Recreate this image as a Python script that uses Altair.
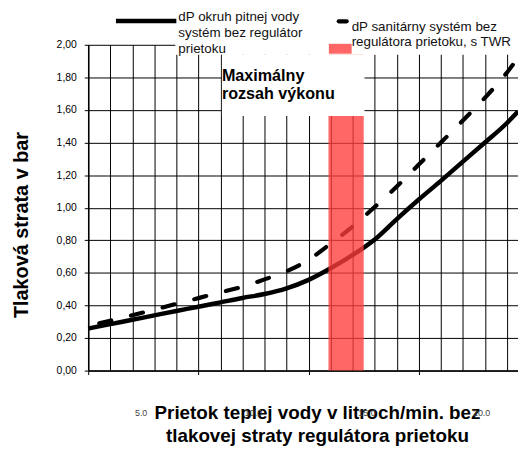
import altair as alt
import pandas as pd

# ---- data ----
solid_x = [0, 1, 2, 3, 4, 5, 6, 7, 8, 9, 10, 11, 12, 13, 14, 15, 16, 17, 18, 19, 19.5]
solid_y = [0.258, 0.285, 0.312, 0.339, 0.366, 0.392, 0.419, 0.446, 0.47, 0.505, 0.557,
           0.628, 0.71, 0.805, 0.93, 1.05, 1.165, 1.283, 1.40, 1.52, 1.59]

dashed_x = [0.5, 2, 4, 6, 7, 8, 9, 10, 11, 12, 13, 14, 15, 16, 17, 18, 19, 19.5]
dashed_y = [0.29, 0.34, 0.41, 0.48, 0.515, 0.56, 0.61, 0.68, 0.78, 0.885, 1.005,
            1.13, 1.265, 1.40, 1.535, 1.675, 1.83, 1.92]

band_start = [10.9]
band_end = [12.5]
band_bottom = [0.0]
band_top = [2.0]

y_ticks = [0.0, 0.2, 0.4, 0.6, 0.8, 1.0, 1.2, 1.4, 1.6, 1.8, 2.0]
x_grid = list(range(0, 20))
x_tick_label_pos = [2.4, 7.5, 12.65, 17.85]
x_tick_labels = ["5.0", "10.0", "15.0", "20.0"]

legend_solid = ["\u00a0dP okruh pitnej vody", "systém bez regulátor", "prietoku"]
legend_dashed = ["dP sanitárny systém bez", "regulátora prietoku, s TWR"]
box_text = ["Maximálny", "rozsah výkonu"]
x_title = ["Prietok teplej vody v litroch/min. bez", "tlakovej straty  regulátora prietoku"]
y_title = "Tlaková strata v bar"

FONT = "Liberation Sans"

xs = alt.Scale(domain=[0, 19.5], nice=False, zero=False)
ys = alt.Scale(domain=[0, 2], nice=False, zero=False)

y_axis = alt.Axis(
    values=y_ticks,
    labelExpr="replace(format(datum.value, '.2f'), '.', ',')",
    grid=True, gridColor="#000", gridWidth=1,
    domainColor="#000", domainWidth=1.5,
    tickColor="#000", tickSize=4, labelPadding=8,
    labelFont=FONT, labelFontSize=10.5, labelColor="#000",
    title=y_title, titleFont=FONT, titleFontSize=20, titleFontWeight="bold",
    titleColor="#000", titleAngle=270, titleX=-61, titleY=181.5,
    titleBaseline="alphabetic", titleAlign="center",
)

x_axis = alt.Axis(
    values=x_grid,
    grid=True, gridColor="#000", gridWidth=1,
    labels=False,
    tickSize=4, tickColor="#000",
    tickOpacity={"condition": {"test": "datum.value % 5 === 0", "value": 1}, "value": 0},
    domainColor="#000", domainWidth=1.5,
    title=x_title, titleFont=FONT, titleFontSize=19, titleFontWeight="bold",
    titleColor="#000", titleX=231, titleY=48, titleBaseline="alphabetic",
    titleAlign="center", titleLineHeight=24,
)

df_solid = pd.DataFrame({"x": solid_x, "y": solid_y})
df_dashed = pd.DataFrame({"x": dashed_x, "y": dashed_y})
df_band = pd.DataFrame({"x": band_start, "x2": band_end, "y": band_bottom, "y2": band_top})
df_ticks = pd.DataFrame({"x": x_tick_label_pos, "label": x_tick_labels})
one = pd.DataFrame({"a": [0]})

X = alt.X("x:Q", scale=xs, axis=x_axis)
Y = alt.Y("y:Q", scale=ys, axis=y_axis)

solid = alt.Chart(df_solid).mark_line(
    color="#000", strokeWidth=4.5, interpolate="monotone"
).encode(x=X, y=Y)

dashed = alt.Chart(df_dashed).mark_line(
    color="#000", strokeWidth=4.2, strokeDash=[12.5, 20.5], strokeCap="round",
    interpolate="monotone"
).encode(x=X, y=Y)

band = alt.Chart(df_band).mark_rect(color="#ff3c3c", opacity=0.78).encode(
    x=X, x2="x2:Q", y=Y, y2="y2:Q"
)

legend_box = alt.Chart(one).mark_rect(color="white").encode(
    x=alt.value(88), x2=alt.value(440), y=alt.value(-35), y2=alt.value(10)
)
text_box = alt.Chart(one).mark_rect(color="white").encode(
    x=alt.value(135), x2=alt.value(279), y=alt.value(10), y2=alt.value(72)
)

leg1_line = alt.Chart(one).mark_rule(color="#000", strokeWidth=4.5).encode(
    x=alt.value(28), x2=alt.value(89), y=alt.value(-24)
)
leg1_text = alt.Chart(one).mark_text(
    text=legend_solid, font=FONT, fontSize=13.5, color="#111", align="left",
    baseline="alphabetic", lineHeight=16
).encode(x=alt.value(91), y=alt.value(-24))

leg2_line = alt.Chart(one).mark_rule(color="#000", strokeWidth=4.2, strokeCap="round").encode(
    x=alt.value(253), x2=alt.value(261), y=alt.value(-23.7)
)
leg2_text = alt.Chart(one).mark_text(
    text=legend_dashed, font=FONT, fontSize=13.5, color="#111", align="left",
    baseline="alphabetic", lineHeight=15.7
).encode(x=alt.value(266), y=alt.value(-14))

leg3_swatch = alt.Chart(one).mark_rect(color="#ff3c3c", opacity=0.78).encode(
    x=alt.value(243), x2=alt.value(266), y=alt.value(-1), y2=alt.value(9)
)

box_label = alt.Chart(one).mark_text(
    text=box_text, font=FONT, fontSize=16.3, fontWeight="bold", color="#000",
    align="left", baseline="alphabetic", lineHeight=18
).encode(x=alt.value(135), y=alt.value(37))

tick_labels = alt.Chart(df_ticks).mark_text(
    font=FONT, fontSize=9, color="#444", align="center", baseline="middle"
).encode(x=X, y=alt.value(372), text="label:N")

chart = alt.layer(
    solid, dashed, band, legend_box, text_box,
    leg1_line, leg1_text, leg2_line, leg2_text, leg3_swatch,
    box_label, tick_labels
).properties(
    width=434, height=329,
    autosize=alt.AutoSizeParams(type="none"),
    padding={"left": 81, "top": 35, "right": 0, "bottom": 76},
    background="white",
).configure_view(stroke=None)

chart.save("out.html", embed_options={"renderer": "svg", "actions": False})
